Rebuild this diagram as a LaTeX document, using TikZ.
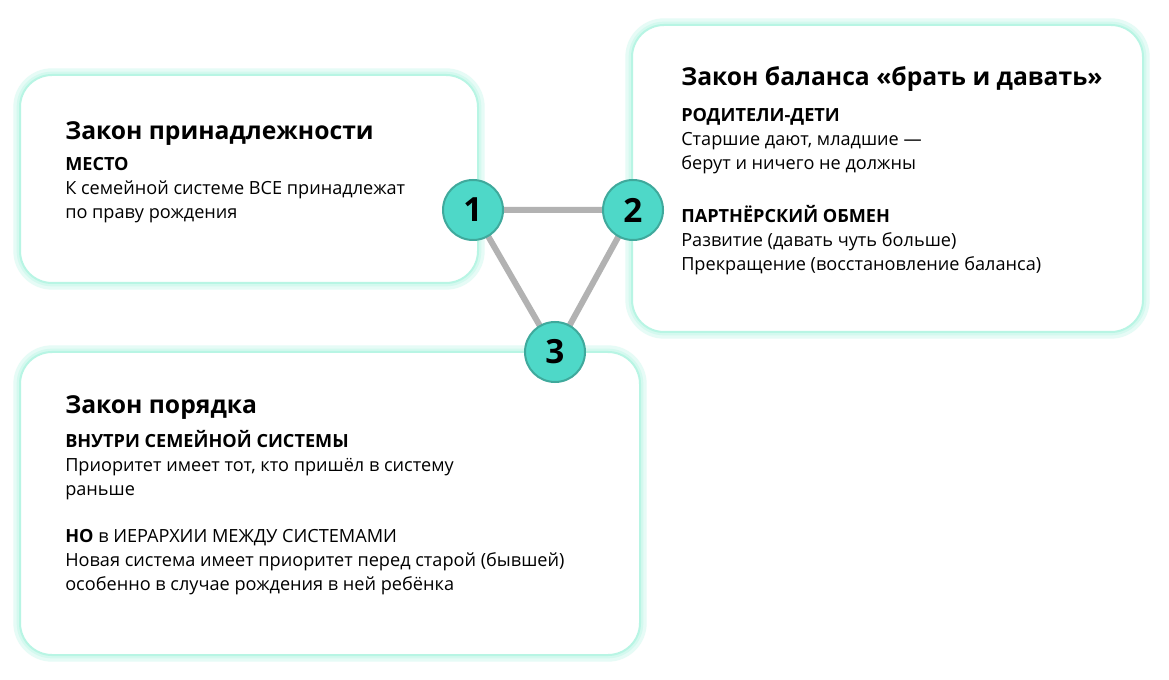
\documentclass[tikz,border=0pt]{standalone}
\usepackage{fontspec}
\setmainfont{Open Sans}
\begin{document}
\begin{tikzpicture}[x=0.75pt,y=-0.75pt,
  glow/.style={rounded corners=24pt},
  ttl/.style={anchor=base west,inner sep=0,font=\fontsize{18.5}{21}\selectfont\bfseries},
  body/.style={anchor=north west,inner sep=0,align=left,font=\fontsize{13.6}{18}\selectfont},
  num/.style={circle,minimum size=45pt,inner sep=0,fill=numfill,draw=numline,line width=1.5pt,font=\fontsize{25}{25}\selectfont\bfseries},
  link/.style={draw=gray!60,line width=4.5pt}]
\definecolor{mint}{HTML}{B8F5E4}
\definecolor{numfill}{HTML}{4ED8C8}
\definecolor{numline}{HTML}{3FA99C}
\useasboundingbox (0,0) rectangle (1169,680);
\fill[white] (0,0) rectangle (1169,680);
\foreach \a/\b/\c/\d in {20/75/478/283, 632/25/1143/332, 20/352/640/655}{
  \draw[glow,mint!35,line width=10pt] (\a,\b) rectangle (\c,\d);
  \draw[glow,mint!60,line width=5pt] (\a,\b) rectangle (\c,\d);
  \draw[glow,fill=white,draw=mint,line width=1.5pt] (\a,\b) rectangle (\c,\d);
}
\node[ttl] (t1) at (65,140) {Закон принадлежности};
\node[body] (b1) at (65,157) {\textbf{МЕСТО}\\К семейной системе ВСЕ принадлежат\\по праву рождения};
\node[ttl] (t2) at (681,86) {Закон баланса «брать и давать»};
\node[body] (b2a) at (681,108) {\textbf{РОДИТЕЛИ-ДЕТИ}\\Старшие дают, младшие —\\берут и ничего не должны};
\node[body] (b2b) at (681,205) {\textbf{ПАРТНЁРСКИЙ ОБМЕН}\\Развитие (давать чуть больше)\\Прекращение (восстановление баланса)};
\node[ttl] (t3) at (65,413) {Закон порядка};
\node[body] (b3a) at (65,430) {\textbf{ВНУТРИ СЕМЕЙНОЙ СИСТЕМЫ}\\Приоритет имеет тот, кто пришёл в систему\\раньше};
\node[body] (b3b) at (65,529) {\textbf{НО} в ИЕРАРХИИ МЕЖДУ СИСТЕМАМИ\\Новая система имеет приоритет перед старой (бывшей)\\особенно в случае рождения в ней ребёнка};
\coordinate (c1) at (473,210);
\coordinate (c2) at (633,210);
\coordinate (c3) at (555,352);
\draw[link] (c1) -- (c2) -- (c3) -- cycle;
\node[num] (n1) at (c1) {1};
\node[num] (n2) at (c2) {2};
\node[num] (n3) at (c3) {3};
\end{tikzpicture}
\end{document}
